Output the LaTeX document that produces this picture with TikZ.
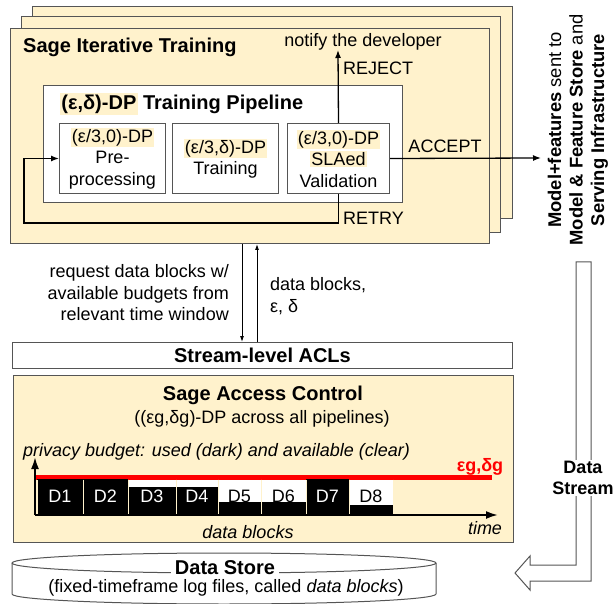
\documentclass[tikz,border=0pt]{standalone}
\usepackage{fontspec}
\setmainfont{Liberation Sans}
\usetikzlibrary{arrows.meta}
\definecolor{beige}{HTML}{FFF2CC}
\definecolor{edge}{HTML}{555555}
\newcommand{\hlt}[1]{{\setlength{\fboxsep}{1.2pt}\colorbox{beige}{#1}}}
\begin{document}
\begin{tikzpicture}[x=1pt,y=-1pt,
  box/.style={draw=edge, line width=1pt, inner sep=0pt, anchor=north west},
  txt/.style={font=\fontsize{18}{21.5}\selectfont, inner sep=0pt, align=center},
  head/.style={font=\bfseries\fontsize{20}{24}\selectfont, inner sep=0pt},
  arr/.style={line width=1.3pt, -{Latex[length=8pt,width=6pt]}},
  thin/.style={line width=0.9pt, -{Latex[length=6pt,width=4pt]}},
  axarr/.style={line width=2pt, -{Latex[length=12pt,width=8pt]}}]
\useasboundingbox (0,0) rectangle (616,604);

% stacked training boxes
\node[box, fill=beige, minimum width=480pt, minimum height=212pt] (back) at (32,6) {};
\node[box, fill=beige, minimum width=479pt, minimum height=216pt] (mid) at (21,16) {};
\node[box, fill=beige, minimum width=479pt, minimum height=215pt] (front) at (10,28) {};
\node[head, anchor=west] (sit) at (23,47) {Sage Iterative Training};

% pipeline
\node[box, fill=white, minimum width=359pt, minimum height=117pt] (pipe) at (43,85) {};
\node[head, anchor=west] (pipet) at (60,104) {\hlt{(ε,δ)-DP} Training Pipeline};
\node[box, fill=white, minimum width=106pt, minimum height=70pt] (B1) at (59,123) {};
\node[box, fill=white, minimum width=106pt, minimum height=70pt] (B2) at (172,123) {};
\node[box, fill=white, minimum width=102pt, minimum height=70pt] (B3) at (287,123) {};
\node[txt] (B1t) at (B1.center) {\hlt{(ε/3,0)-DP}\\Pre-\\processing};
\node[txt] (B2t) at (B2.center) {\hlt{(ε/3,δ)-DP}\\Training};
\node[txt] (B3t) at (B3.center) {\hlt{(ε/3,0)-DP}\\\hlt{SLAed}\\Validation};

% retry / reject / accept
\coordinate (rl) at (24,223);
\draw[arr] (B3.south) |- (rl) |- (B1.west);
\node[txt, anchor=west] (retry) at (343,218) {RETRY};
\node[txt] (notify) at (363,42) {notify the developer};
\coordinate (rj) at (338,50);
\draw[arr] (B3.north) -- (rj);
\node[txt, anchor=west] (reject) at (343,68) {REJECT};
\coordinate (acc) at (541,158);
\draw[arr] (B3.east) -- (acc);
\node[txt] (accept) at (445,146) {ACCEPT};
\node[rotate=90, font=\fontsize{18.4}{21.5}\selectfont, align=center, inner sep=0pt] (dest) at (578,130)
  {\textbf{Model+features} sent to\\\textbf{Model \& Feature Store} and\\\textbf{Serving Infrastructure}};

% stream ACL
\node[box, fill=white, minimum width=500pt, minimum height=26pt] (acl) at (12,342) {};
\node[head] (aclt) at (acl.center) {Stream-level ACLs};
\coordinate (rqx) at (242,0);
\coordinate (dbx) at (257,0);
\draw[thin] (front.south -| rqx) -- (acl.north -| rqx);
\draw[thin] (acl.north -| dbx) -- (front.south -| dbx);
\node[txt, anchor=east, align=right] (req) at (229,293) {request data blocks w/\\available budgets from\\relevant time window};
\node[txt, anchor=west, align=left] (dbe) at (270,296) {data blocks,\\ε, δ};

% Sage access control
\node[box, fill=beige, minimum width=500pt, minimum height=167pt] (sac) at (13,375) {};
\node[head] (sact) at (263,395) {Sage Access Control};
\node[txt] (sacs) at (262,419) {((εg,δg)-DP across all pipelines)};
\node[txt, anchor=west, font=\itshape\fontsize{18}{21.5}\selectfont] (pb) at (23,452) {privacy budget: used (dark) and available (clear)};
\draw[red, line width=5pt] (35,477) -- (492,477);
\node[txt, text=red, font=\bfseries\fontsize{18}{21.5}\selectfont] (eg) at (480,467) {εg,δg};
\foreach \n/\a/\b/\t/\c in {1/37/83/479/white, 2/83/128/479/white, 3/128/176/487/white, 4/176/218/487/white, 5/218/261/502/black, 6/261/306/502/black, 7/306/349/479/white, 8/349/393/505/black} {
  \fill[white] (\a,479.5) rectangle (\b,515);
  \fill[black] (\a,\t) rectangle (\b,515);
  \draw[beige, line width=1pt] (\a,479.5) -- (\a,515) (\b,479.5) -- (\b,515);
  \node[txt, text=\c] (D\n) at ({(\a+\b)/2},496) {D\n};
}
\coordinate (o) at (35,515);
\coordinate (yt) at (35,457);
\coordinate (xt) at (498,515);
\draw[axarr] (o) -- (yt);
\draw[axarr] (o) -- (xt);
\node[txt, font=\itshape\fontsize{18}{21.5}\selectfont] (time) at (485,528) {time};
\node[txt, font=\itshape\fontsize{18}{21.5}\selectfont] (dbl) at (248,532) {data blocks};

% data stream hollow arrow
\draw[edge, line width=1pt, fill=white] (576,262) -- (591,262) -- (591,581) -- (530,581) -- (530,590) -- (515,573) -- (530,556) -- (530,565) -- (576,565) -- cycle;
\node[fill=white, align=center, inner sep=1pt, font=\bfseries\fontsize{18}{21}\selectfont] (ds) at (583,478) {Data\\Stream};

% data store cylinder
\fill[white] (12,563) -- (12,594) arc[start angle=180,end angle=360,x radius=212pt,y radius=10pt] -- (436,563) -- cycle;
\draw[edge, line width=1pt] (12,563) -- (12,594) arc[start angle=180,end angle=360,x radius=212pt,y radius=10pt] -- (436,563);
\draw[edge, line width=1pt, fill=white] (224,563) ellipse[x radius=212pt, y radius=10pt];
\node[fill=white, inner xsep=4pt, inner ysep=1pt, font=\bfseries\fontsize{20}{24}\selectfont] (dst) at (225,568) {Data Store};
\node[txt] (dsts) at (226,588) {(fixed-timeframe log files, called \textit{data blocks})};
\end{tikzpicture}
\end{document}
